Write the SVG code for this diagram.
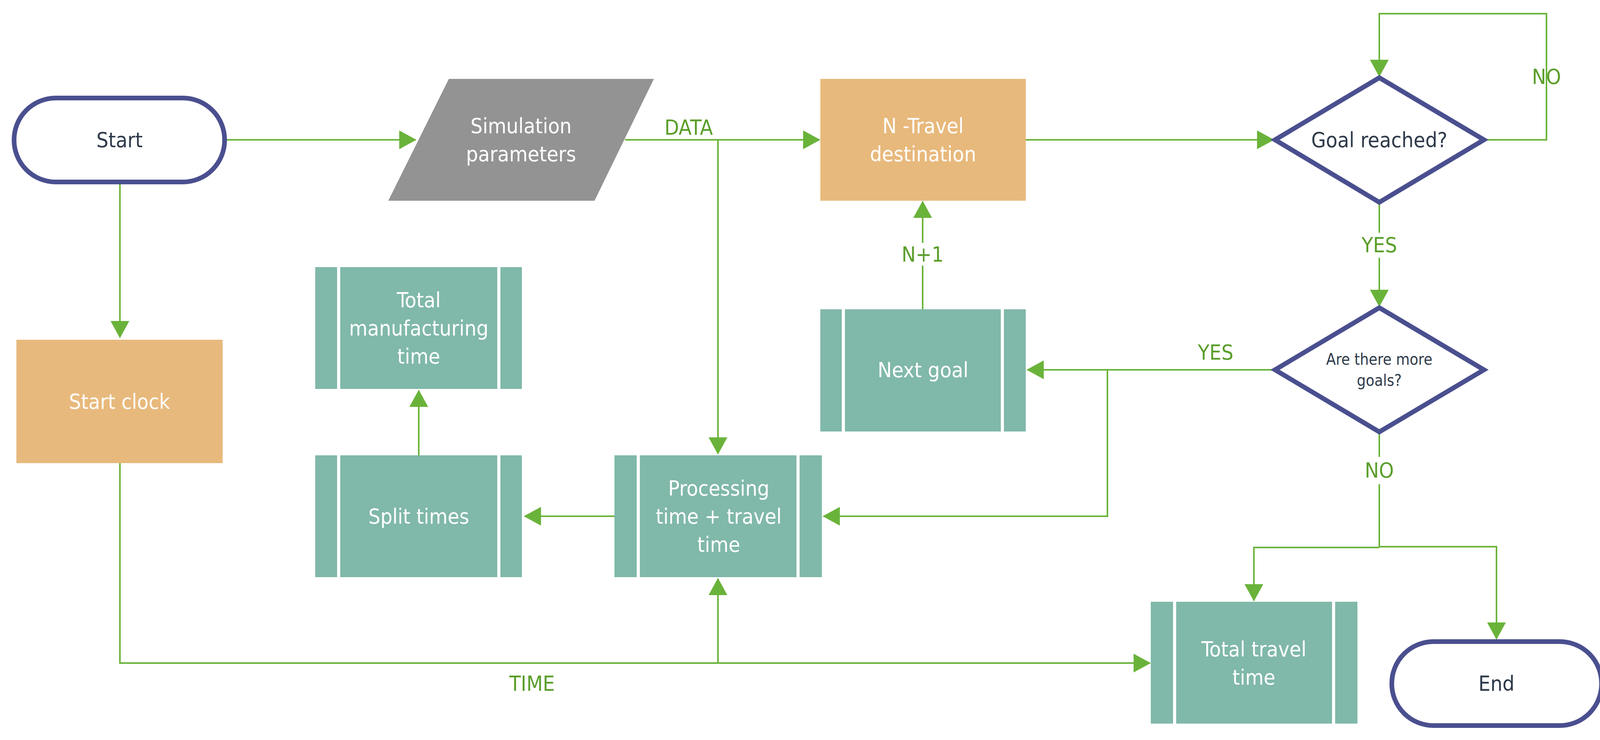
<svg xmlns="http://www.w3.org/2000/svg" width="4150" height="1895" viewBox="0 0 4150 1895">
<style>
.t{font-family:"DejaVu Sans Condensed","DejaVu Sans",sans-serif;font-size:54px;text-anchor:middle;dominant-baseline:central}
.w{fill:#fff}.d{fill:#2e3a4a}.g{fill:#5a9e2a}
.term{fill:#fff;stroke:#4a4f8f;stroke-width:12}
.dia{fill:#fff;stroke:#4a4f8f;stroke-width:12;stroke-linejoin:miter}
.or{fill:#e8b97c}.te{fill:#80b8aa}.sep{stroke:#fff;stroke-width:8}
.c{fill:none;stroke:#6ab33a;stroke-width:4}
</style>
<defs>
<marker id="a" markerUnits="userSpaceOnUse" markerWidth="44" markerHeight="48" refX="42" refY="24" orient="auto"><path d="M0,0L44,24L0,48Z" fill="#6ab33a"/></marker>
</defs>
<g id="connectors">
<path class="c" d="M578,358H1064" marker-end="url(#a)"/>
<path class="c" d="M307,469V864" marker-end="url(#a)"/>
<path class="c" d="M1600,358H2098" marker-end="url(#a)"/>
<path class="c" d="M1838,358V1162" marker-end="url(#a)"/>
<path class="c" d="M1573,1322H1343" marker-end="url(#a)"/>
<path class="c" d="M1072,1166V1000" marker-end="url(#a)"/>
<path class="c" d="M307,1186V1698H2944" marker-end="url(#a)"/>
<path class="c" d="M1838,1698V1482" marker-end="url(#a)"/>
<path class="c" d="M2626,358H3260" marker-end="url(#a)"/>
<path class="c" d="M3801,358H3959V35H3531V195" marker-end="url(#a)"/>
<path class="c" d="M3531,520V596M3531,660V784" marker-end="url(#a)"/>
<path class="c" d="M3262,947H2630" marker-end="url(#a)"/>
<path class="c" d="M2835,947V1322H2108" marker-end="url(#a)"/>
<path class="c" d="M2362,792V680M2362,622V516" marker-end="url(#a)"/>
<path class="c" d="M3531,1108V1170M3531,1240V1402"/>
<path class="c" d="M3531,1402H3210V1538" marker-end="url(#a)"/>
<path class="c" d="M3531,1400H3831V1636" marker-end="url(#a)"/>
<text class="t g" x="1763" y="326">DATA</text>
<text class="t g" x="1362" y="1750">TIME</text>
<text class="t g" x="3959" y="196">NO</text>
<text class="t g" x="3531" y="627">YES</text>
<text class="t g" x="3112" y="902">YES</text>
<text class="t g" x="2362" y="651">N+1</text>
<text class="t g" x="3531" y="1204">NO</text>
</g>
<g id="start"><rect class="term" x="36" y="251" width="539" height="215" rx="107"/><text class="t d" x="306" y="358">Start</text></g>
<g id="params"><path d="M1149,202H1674L1522,514H994Z" fill="#939393"/><text class="t w" x="1334" y="322">Simulation</text><text class="t w" x="1334" y="394">parameters</text></g>
<g id="startclock"><rect class="or" x="42" y="870" width="528" height="316"/><text class="t w" x="306" y="1028">Start clock</text></g>
<g id="totalmfg"><rect class="te" x="807" y="684" width="529" height="312"/><path class="sep" d="M867,684V996M1277,684V996"/><text class="t w" x="1072" y="768">Total</text><text class="t w" x="1072" y="840">manufacturing</text><text class="t w" x="1072" y="912">time</text></g>
<g id="split"><rect class="te" x="807" y="1166" width="529" height="312"/><path class="sep" d="M867,1166V1478M1277,1166V1478"/><text class="t w" x="1072" y="1322">Split times</text></g>
<g id="processing"><rect class="te" x="1573" y="1166" width="531" height="312"/><path class="sep" d="M1634,1166V1478M2043,1166V1478"/><text class="t w" x="1840" y="1250">Processing</text><text class="t w" x="1840" y="1322">time + travel</text><text class="t w" x="1840" y="1394">time</text></g>
<g id="ntravel"><rect class="or" x="2100" y="202" width="526" height="312"/><text class="t w" x="2363" y="322">N -Travel</text><text class="t w" x="2363" y="394">destination</text></g>
<g id="nextgoal"><rect class="te" x="2100" y="792" width="526" height="313"/><path class="sep" d="M2159,792V1105M2566,792V1105"/><text class="t w" x="2363" y="947">Next goal</text></g>
<g id="goalreached"><path class="dia" d="M3531,199L3799,358L3531,518L3264,358Z"/><text class="t d" x="3531" y="358">Goal reached?</text></g>
<g id="moregoals"><path class="dia" d="M3531,788L3799,947L3531,1106L3264,947Z"/><text class="t d" x="3531" y="920" style="font-size:40px">Are there more</text><text class="t d" x="3531" y="974" style="font-size:40px">goals?</text></g>
<g id="totaltravel"><rect class="te" x="2946" y="1541" width="529" height="312"/><path class="sep" d="M3007,1541V1853M3414,1541V1853"/><text class="t w" x="3210" y="1662">Total travel</text><text class="t w" x="3210" y="1734">time</text></g>
<g id="end"><rect class="term" x="3563" y="1643" width="537" height="215" rx="107"/><text class="t d" x="3831" y="1750">End</text></g>
</svg>
